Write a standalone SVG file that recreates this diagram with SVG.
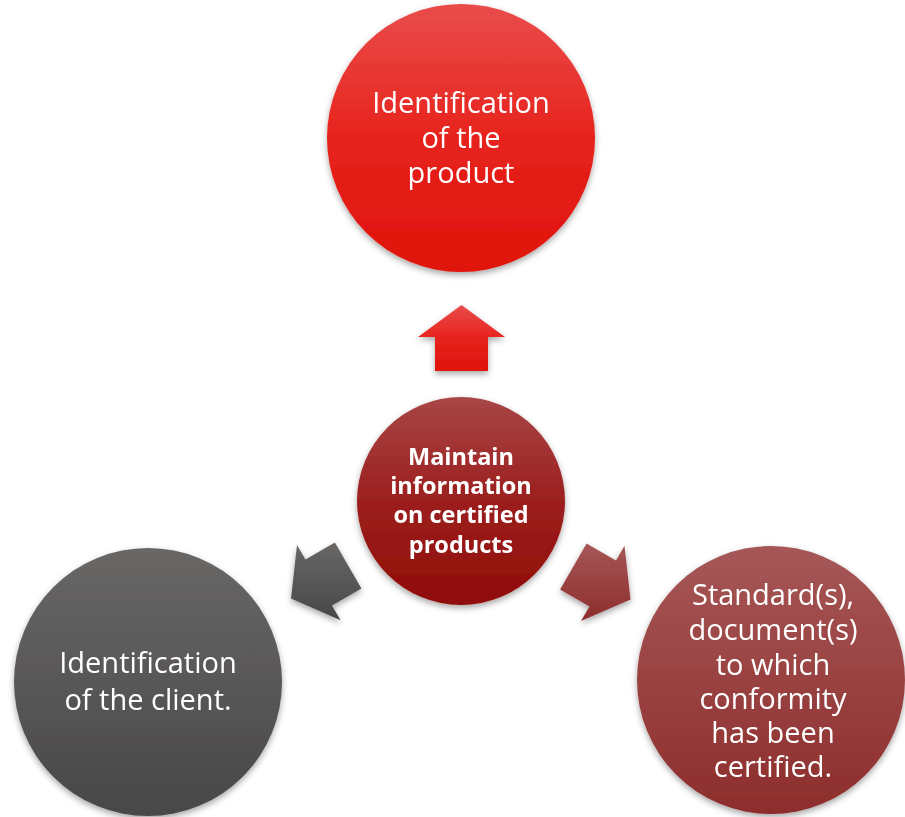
<svg xmlns="http://www.w3.org/2000/svg" width="905" height="817" viewBox="0 0 905 817">
  <defs>
    <linearGradient id="gRed" x1="0" y1="0" x2="0" y2="1">
      <stop offset="0" stop-color="#e94c4b"/>
      <stop offset="0.5" stop-color="#e7231d"/>
      <stop offset="1" stop-color="#e0130c"/>
    </linearGradient>
    <linearGradient id="gCore" x1="0" y1="0" x2="0" y2="1">
      <stop offset="0" stop-color="#a84646"/>
      <stop offset="0.5" stop-color="#9c1f1e"/>
      <stop offset="1" stop-color="#900c07"/>
    </linearGradient>
    <linearGradient id="gGray" x1="0" y1="0" x2="0" y2="1">
      <stop offset="0" stop-color="#696766"/>
      <stop offset="1" stop-color="#484747"/>
    </linearGradient>
    <linearGradient id="gRose" x1="0" y1="0" x2="0" y2="1">
      <stop offset="0" stop-color="#a65757"/>
      <stop offset="1" stop-color="#8d2d2c"/>
    </linearGradient>
    <filter id="shadow" x="-20%" y="-20%" width="140%" height="150%">
      <feDropShadow dx="0" dy="3" stdDeviation="3" flood-color="#000" flood-opacity="0.35"/>
    </filter>
    <style>
      .lbl { font-family: "Open Sans", "Liberation Sans", sans-serif; fill: #ffffff; text-anchor: middle; }
      .big { font-size: 29px; }
      .core { font-size: 23.5px; font-weight: bold; }
    </style>
  </defs>

  <!-- connectors: block arrows radiating from the central circle -->
  <g id="connectors" filter="url(#shadow)">
    <polygon fill="url(#gRed)" points="461.5,305 505,337 488,337 488,371 435,371 435,337 418,337"/>
    <polygon fill="url(#gGray)" points="291,598.6 297,544.9 305.5,559.6 334.9,542.6 361.4,588.5 332,605.5 340.5,620.2"/>
    <polygon fill="url(#gRose)" points="630.5,599.4 581,621.1 589.5,606.4 560.1,589.4 586.6,543.5 616,560.5 624.5,545.8"/>
  </g>

  <g id="product" filter="url(#shadow)">
    <circle cx="461" cy="138" r="134" fill="url(#gRed)"/>
    <text class="lbl big" x="461" y="113">Identification</text>
    <text class="lbl big" x="461" y="148">of the</text>
    <text class="lbl big" x="461" y="183">product</text>
  </g>

  <g id="center" filter="url(#shadow)">
    <circle cx="461" cy="501" r="104" fill="url(#gCore)"/>
    <text class="lbl core" x="461" y="465">Maintain</text>
    <text class="lbl core" x="461" y="494">information</text>
    <text class="lbl core" x="461" y="523">on certified</text>
    <text class="lbl core" x="461" y="553">products</text>
  </g>

  <g id="client" filter="url(#shadow)">
    <circle cx="148" cy="682" r="134" fill="url(#gGray)"/>
    <text class="lbl big" x="148" y="673">Identification</text>
    <text class="lbl big" x="148" y="710">of the client.</text>
  </g>

  <g id="standards" filter="url(#shadow)">
    <circle cx="771" cy="680" r="134" fill="url(#gRose)"/>
    <text class="lbl big" x="773" y="605">Standard(s),</text>
    <text class="lbl big" x="773" y="640">document(s)</text>
    <text class="lbl big" x="773" y="675">to which</text>
    <text class="lbl big" x="773" y="709">conformity</text>
    <text class="lbl big" x="773" y="743">has been</text>
    <text class="lbl big" x="773" y="777">certified.</text>
  </g>
</svg>
